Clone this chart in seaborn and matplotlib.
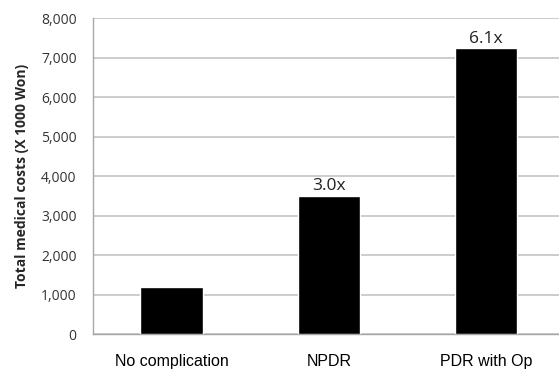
import matplotlib
matplotlib.use("Agg")
import matplotlib.pyplot as plt
import seaborn as sns
import pandas as pd
from matplotlib.ticker import FuncFormatter, MultipleLocator

# Total medical costs by diabetic retinopathy complication status
groups = ["No complication", "NPDR", "PDR with Op"]
costs = [1190, 3510, 7250]
ratio_labels = ["", "3.0x", "6.1x"]

df = pd.DataFrame({"group": groups, "cost": costs})

sns.set_style("white")
plt.rcParams["font.family"] = ["Open Sans", "DejaVu Sans"]

fig = plt.figure(figsize=(5.59, 3.73), dpi=100)
ax = fig.add_axes([0.167, 0.104, 0.843, 0.847])

sns.barplot(data=df, x="group", y="cost", color="black", saturation=1,
            width=0.4, ax=ax, zorder=3)

ax.set_ylim(0, 8000)
ax.set_xlim(-0.5, 2.5)
ax.yaxis.set_major_locator(MultipleLocator(1000))
ax.yaxis.set_major_formatter(FuncFormatter(lambda v, _: f"{int(v):,}"))
ax.grid(axis="y", color="#c4c4c4", linewidth=1.2, zorder=0)
ax.set_axisbelow(True)

for side in ["top", "right"]:
    ax.spines[side].set_visible(False)
for side in ["left", "bottom"]:
    ax.spines[side].set_color("#a8a8a8")
    ax.spines[side].set_linewidth(1.0)

# category-boundary ticks on the x axis, label ticks hidden
ax.set_xticks([0, 1, 2])
ax.set_xticks([0.5, 1.5], minor=True)
ax.tick_params(axis="x", which="major", length=0, pad=14, labelsize=11.5,
               labelcolor="black")
ax.tick_params(axis="x", which="minor", length=5, width=1.0, color="#a8a8a8",
               direction="out")
ax.tick_params(axis="y", length=5, width=1.0, color="#a8a8a8", direction="out",
               labelsize=10, labelcolor="#333333", pad=7)
for lbl in ax.get_xticklabels():
    lbl.set_fontfamily(["Liberation Sans", "DejaVu Sans"])

ax.set_xlabel("")
ax.set_ylabel("Total medical costs (X 1000 Won)", fontsize=10,
              fontweight="bold", labelpad=9)

ax.bar_label(ax.containers[0], labels=ratio_labels, padding=1,
             fontsize=12.5, color="#222222")

fig.savefig("out.png", dpi=100)
